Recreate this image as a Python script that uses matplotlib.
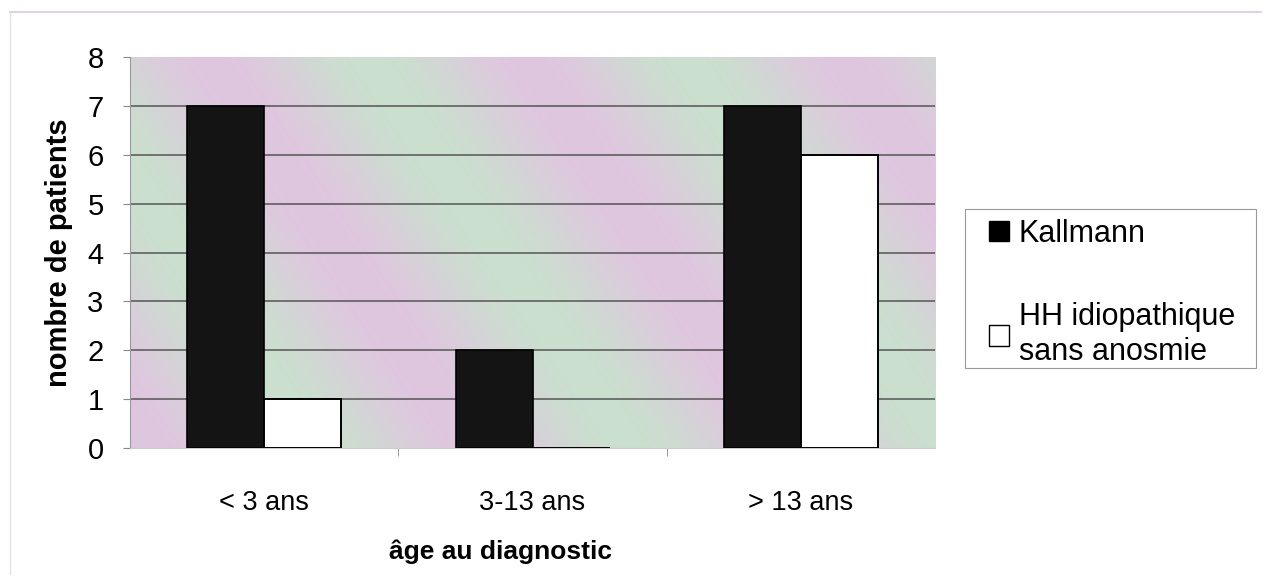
#!/usr/bin/env python

import numpy as np
import matplotlib.pyplot as plt
from matplotlib.patches import Patch, Rectangle

plt.rcParams['font.family'] = ['Liberation Sans', 'DejaVu Sans']

categories = ["< 3 ans", "3-13 ans", "> 13 ans"]
kallmann = [7, 2, 7]      # Kallmann
hh = [1, 0, 6]            # HH idiopathique sans anosmie
yticks = [0, 1, 2, 3, 4, 5, 6, 7, 8]

W, H = 1267, 586
fig = plt.figure(figsize=(W / 100, H / 100), dpi=100)
ax = fig.add_axes([0.1026, 0.2355, 0.6354, 0.667])

# scanned pink / green diagonal wash behind the plot
ny, nx = 200, 400
yy, xx = np.mgrid[0:ny, 0:nx]
t = 0.5 + 0.5 * np.sin((xx * 2.0 - yy * 1.3) / 50.0)
pink = np.array([224, 198, 224]) / 255.0
green = np.array([202, 224, 206]) / 255.0
bg = pink[None, None, :] * t[..., None] + green[None, None, :] * (1 - t[..., None])
ax.imshow(bg, extent=[-0.5, 2.5, 0, 8], aspect='auto', zorder=0, origin='upper')

x = np.arange(len(categories))
w = 0.287
ax.bar(x - w / 2, kallmann, w, color='#141414', edgecolor='black', linewidth=1.2, zorder=3)
ax.bar(x + w / 2, hh, w, color='white', edgecolor='black', linewidth=1.4, zorder=3)

ax.set_xlim(-0.5, 2.5)
ax.set_ylim(0, 8)
ax.set_yticks(yticks)
ax.set_xticks(x)
ax.set_xticklabels(categories)
ax.set_xticks([0.5, 1.5], minor=True)
ax.tick_params(axis='x', which='major', length=0, pad=30, labelsize=19.5)
ax.tick_params(axis='x', which='minor', length=6, color='#888888')
ax.tick_params(axis='y', length=5, color='#888888', labelsize=21, pad=14)

for v in yticks[1:-1]:
    ax.axhline(v, color='#555555', linewidth=1.1, zorder=1)

for s in ['top', 'right']:
    ax.spines[s].set_visible(False)
ax.spines['left'].set_color('#999999')
ax.spines['bottom'].set_color('#cccccc')

ax.set_ylabel("nombre de patients", fontsize=21, fontweight='bold', labelpad=10)
ax.set_xlabel("âge au diagnostic", fontsize=19, fontweight='bold')
ax.xaxis.set_label_coords(0.46, -0.235)

# legend box drawn separately so the padding matches the original
fig.add_artist(Rectangle((965 / W, 1 - 368 / H), (1256 - 965) / W, (368 - 209) / H,
                         transform=fig.transFigure, facecolor='white',
                         edgecolor='#999999', linewidth=0.8))
handles = [Patch(facecolor='black', edgecolor='black'),
           Patch(facecolor='white', edgecolor='black')]
leg = fig.legend(handles, ["Kallmann", "HH idiopathique\nsans anosmie"],
                 loc='upper left', bbox_to_anchor=(989 / W, 1 - 219 / H),
                 fontsize=22, frameon=False,
                 handlelength=0.65, handleheight=0.65, handletextpad=0.33,
                 labelspacing=1.75, borderpad=0, borderaxespad=0)

# faint outer frame of the original chart
fig.add_artist(plt.Line2D([0.008, 0.995], [0.98, 0.98], color='#dcc8dc', linewidth=1.2))
fig.add_artist(plt.Line2D([0.008, 0.008], [0.02, 0.98], color='#e2e2e2', linewidth=1.0))

fig.savefig("out.png", dpi=100)
